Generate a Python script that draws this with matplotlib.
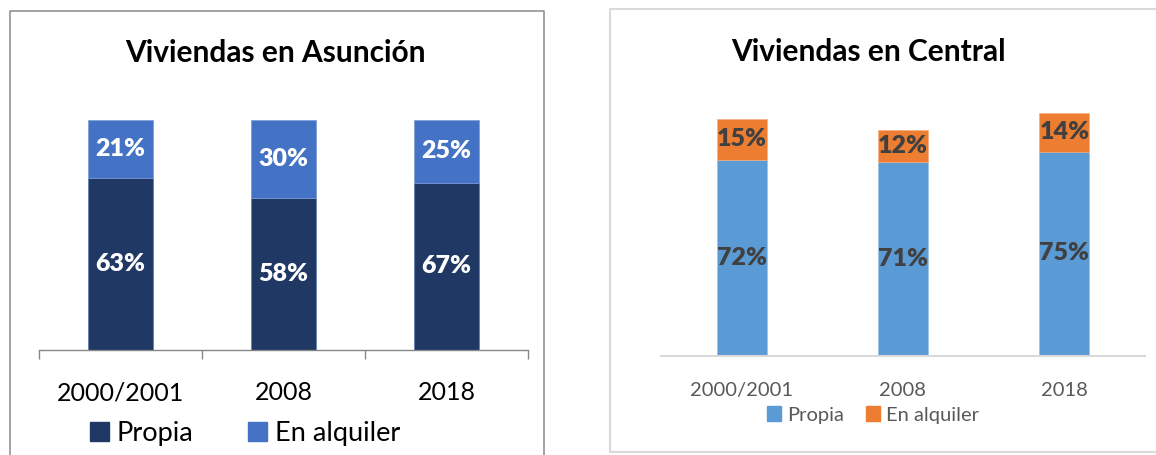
import matplotlib.pyplot as plt
from matplotlib.patches import Patch
from matplotlib.lines import Line2D
import numpy as np

plt.rcParams['font.family'] = ['Lato', 'DejaVu Sans']

years = ['2000/2001', '2008', '2018']

# Asuncion (100% stacked)
asu_propia = [63, 58, 67]
asu_alquiler = [21, 30, 25]

# Central (plain stacked)
cen_propia = [72, 71, 75]
cen_alquiler = [15, 12, 14]

W, H = 1156, 455
fig = plt.figure(figsize=(W / 100, H / 100), dpi=100)

def fx(px):
    return px / W

def fy(py):
    return 1 - py / H

x = np.arange(len(years))

# ---- left chart: Asuncion ----
ax1 = fig.add_axes([fx(39), fy(350), fx(528 - 39), fy(120) - fy(350)])
tot = np.array(asu_propia) + np.array(asu_alquiler)
p1 = np.array(asu_propia) / tot
a1 = np.array(asu_alquiler) / tot
ax1.bar(x, p1, width=0.4, color='#203864', edgecolor='#5b7bb5', linewidth=0.5)
ax1.bar(x, a1, width=0.4, bottom=p1, color='#4472C4', edgecolor='#7b9ad6', linewidth=0.5)
for i in range(len(years)):
    ax1.text(x[i], p1[i] / 2, f'{asu_propia[i]}%', ha='center', va='center',
             color='white', fontsize=18, fontweight='heavy')
    ax1.text(x[i], p1[i] + a1[i] / 2, f'{asu_alquiler[i]}%', ha='center', va='center',
             color='white', fontsize=18, fontweight='heavy')
ax1.set_xlim(-0.5, 2.5)
ax1.set_ylim(0, 1)
ax1.set_yticks([])
ax1.set_xticks(x)
ax1.set_xticklabels(years, fontsize=18, color='black')
ax1.set_xticks([-0.5, 0.5, 1.5, 2.5], minor=True)
ax1.tick_params(axis='x', which='major', length=0, pad=22.5)
ax1.tick_params(axis='x', which='minor', length=6.5, width=1, color='#868686')
for s in ['top', 'right', 'left']:
    ax1.spines[s].set_visible(False)
ax1.spines['bottom'].set_color('#868686')
ax1.spines['bottom'].set_linewidth(1)
ax1.patch.set_alpha(0)

fig.text(fx(275), fy(53), 'Viviendas en Asunción', ha='center', va='center',
         fontsize=21.5, fontweight='bold', color='black')

h1 = [Patch(color='#203864'), Patch(color='#4472C4')]
fig.legend(h1, ['Propia', 'En alquiler'], loc='center', bbox_to_anchor=(fx(245), fy(433)),
           ncol=2, frameon=False, fontsize=19.5, handlelength=0.7, handleheight=0.7,
           handletextpad=0.3, columnspacing=2.0)

# ---- right chart: Central ----
ax2 = fig.add_axes([fx(661), fy(355.5), fx(1145 - 661), fy(100) - fy(355.5)])
ax2.bar(x, cen_propia, width=0.31, color='#5B9BD5', edgecolor='#9cc3e6', linewidth=0.5)
ax2.bar(x, cen_alquiler, width=0.31, bottom=cen_propia, color='#ED7D31',
        edgecolor='#f4b183', linewidth=0.5)
for i in range(len(years)):
    ax2.text(x[i], cen_propia[i] / 2, f'{cen_propia[i]}%', ha='center', va='center',
             color='#404040', fontsize=18, fontweight='heavy')
    ax2.text(x[i], cen_propia[i] + cen_alquiler[i] / 2, f'{cen_alquiler[i]}%', ha='center',
             va='center', color='#404040', fontsize=18, fontweight='heavy')
ax2.set_xlim(-0.5, 2.5)
ax2.set_ylim(0, 255.5 / 2.72)
ax2.set_yticks([])
ax2.set_xticks(x)
ax2.set_xticklabels(years, fontsize=14.5, color='#595959')
ax2.tick_params(axis='x', length=0, pad=19)
for s in ['top', 'right', 'left']:
    ax2.spines[s].set_visible(False)
ax2.spines['bottom'].set_color('#d9d9d9')
ax2.spines['bottom'].set_linewidth(1.5)
ax2.patch.set_alpha(0)

fig.text(fx(868), fy(52), 'Viviendas en Central', ha='center', va='center',
         fontsize=21.5, fontweight='bold', color='black')

h2 = [Patch(color='#5B9BD5'), Patch(color='#ED7D31')]
fig.legend(h2, ['Propia', 'En alquiler'], loc='center', bbox_to_anchor=(fx(873), fy(415)),
           ncol=2, frameon=False, fontsize=14.5, handlelength=0.7, handleheight=0.7,
           handletextpad=0.3, columnspacing=1.1, labelcolor='#595959')

# chart frames
fig.add_artist(Line2D([fx(9.5), fx(9.5), fx(543.5), fx(543.5)],
                      [fy(H + 5), fy(10.5), fy(10.5), fy(H + 5)],
                      transform=fig.transFigure, color='#8a8a8a', linewidth=1.1))
fig.add_artist(Line2D([fx(W + 5), fx(609.5), fx(609.5), fx(W + 5)],
                      [fy(8.5), fy(8.5), fy(452), fy(452)],
                      transform=fig.transFigure, color='#d9d9d9', linewidth=1.5))

fig.savefig('out.png', dpi=100)
